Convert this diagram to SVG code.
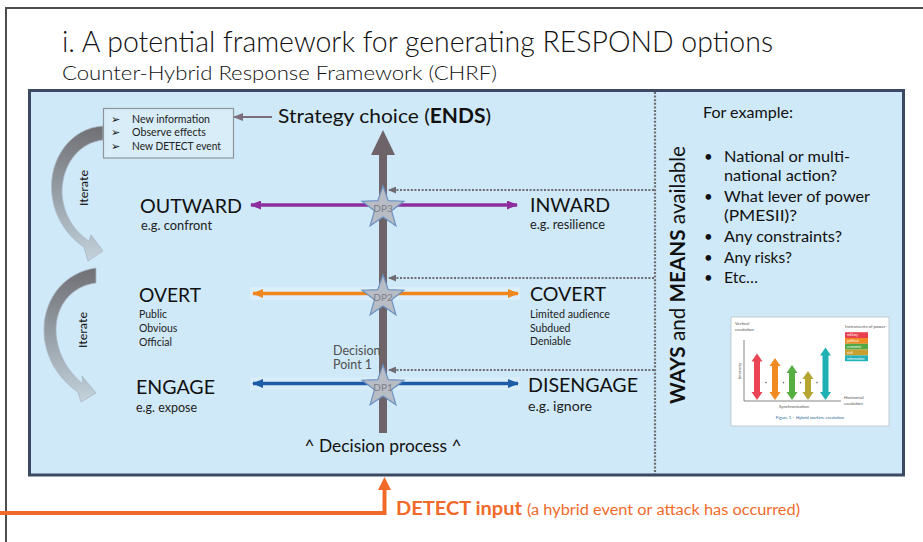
<svg xmlns="http://www.w3.org/2000/svg" xmlns:xlink="http://www.w3.org/1999/xlink" width="923" height="542" viewBox="0 0 923 542">
<style>
text{font-family:Lato,"Liberation Sans","DejaVu Sans",sans-serif;fill:#111}
.big{font-size:20px}
.sm{font-size:12.5px;fill:#222}
.xs{font-size:10.5px;fill:#222}
.ex{font-size:15px}
.dp{font-size:10px;fill:#7e7e86;text-anchor:middle}
.fig{font-size:4.3px;fill:#555}
.dot{stroke:#6e6e72;stroke-width:2.2;stroke-dasharray:2 1.6;fill:none}
.star{fill:#b8bcc5;stroke:#6c91c0;stroke-width:1.2}
.blt{font-family:"DejaVu Sans",sans-serif;font-size:11px;fill:#111}
</style>
<defs>
<marker id="mPur" markerUnits="userSpaceOnUse" markerWidth="11" markerHeight="9" refX="10" refY="4.5" orient="auto-start-reverse"><path d="M0,0 L11,4.5 L0,9 Z" fill="#8e2e9e"/></marker>
<marker id="mOra" markerUnits="userSpaceOnUse" markerWidth="11" markerHeight="9" refX="10" refY="4.5" orient="auto-start-reverse"><path d="M0,0 L11,4.5 L0,9 Z" fill="#f0861e"/></marker>
<marker id="mBlu" markerUnits="userSpaceOnUse" markerWidth="11" markerHeight="9" refX="10" refY="4.5" orient="auto-start-reverse"><path d="M0,0 L11,4.5 L0,9 Z" fill="#1f5ca8"/></marker>
<marker id="mGry" markerUnits="userSpaceOnUse" markerWidth="8" markerHeight="7" refX="7" refY="3.5" orient="auto"><path d="M0,0 L8,3.5 L0,7 Z" fill="#6e6e72"/></marker>
<marker id="mStr" markerUnits="userSpaceOnUse" markerWidth="10" markerHeight="8" refX="9" refY="4" orient="auto"><path d="M0,0 L10,4 L0,8 Z" fill="#7b6f7e"/></marker>
<linearGradient id="gCurve" x1="0" y1="0" x2="0" y2="1">
<stop offset="0" stop-color="#707074"/>
<stop offset="0.55" stop-color="#9aa3ab"/>
<stop offset="1" stop-color="#c4d3dd"/>
</linearGradient>
<path id="star" d="M0,-22 L5.3,-7.3 L20.9,-6.8 L8.6,2.8 L12.9,17.8 L0,9 L-12.9,17.8 L-8.6,2.8 L-20.9,-6.8 L-5.3,-7.3 Z"/>
</defs>

<rect width="923" height="542" fill="#ffffff"/>
<path d="M923,8 L6,8 L6,542" fill="none" stroke="#4d4d4d" stroke-width="2"/>

<g id="title">
<text x="62" y="52" font-size="30" font-weight="300" textLength="711" lengthAdjust="spacingAndGlyphs">i. A potential framework for generating RESPOND options</text>
<text x="62" y="80" font-size="20" font-weight="300" textLength="435" lengthAdjust="spacingAndGlyphs">Counter-Hybrid Response Framework (CHRF)</text>
</g>

<g id="panel">
<rect x="29.5" y="90.5" width="874" height="384.5" fill="#cfe9f8" stroke="#3b4a62" stroke-width="3"/>
<line x1="655" y1="92" x2="655" y2="474" class="dot"/>
</g>

<g id="connectors">
<rect x="250" y="287" width="270" height="13" fill="#ffffff" opacity="0.25"/>
<rect x="250" y="377" width="270" height="13" fill="#ffffff" opacity="0.18"/>
<rect x="379" y="154" width="8" height="279" fill="#6d6368"/>
<polygon points="371,155 383,130 395,155" fill="#6d6368"/>
<line x1="251" y1="205" x2="517" y2="205" stroke="#8e2e9e" stroke-width="3.5" marker-start="url(#mPur)" marker-end="url(#mPur)"/>
<line x1="253" y1="293.5" x2="518" y2="293.5" stroke="#f0861e" stroke-width="3.5" marker-start="url(#mOra)" marker-end="url(#mOra)"/>
<line x1="253" y1="383.5" x2="518" y2="383.5" stroke="#1f5ca8" stroke-width="3.5" marker-start="url(#mBlu)" marker-end="url(#mBlu)"/>
<line x1="654" y1="190" x2="389" y2="190" class="dot" marker-end="url(#mGry)"/>
<line x1="654" y1="278" x2="389" y2="278" class="dot" marker-end="url(#mGry)"/>
<line x1="654" y1="370" x2="389" y2="370" class="dot" marker-end="url(#mGry)"/>
<line x1="272" y1="117" x2="234" y2="117" stroke="#7b6f7e" stroke-width="2" marker-end="url(#mStr)"/>
<path d="M103,126 C70,128 48,160 52,195 C55,220 70,238 84,247 L88,261 L103,251 L91,235 L89,241 C75,232 63,215 62,193 C62,165 78,143 103,140 Z" fill="url(#gCurve)" stroke="#a9b8c4" stroke-width="0.8"/>
<path d="M96,268 C65,272 44,298 44,330 C44,358 60,380 78,392 L81,402 L96,393 L82,376 L83,384 C68,372 56,352 56,330 C56,305 72,286 96,283 Z" fill="url(#gCurve)" stroke="#a9b8c4" stroke-width="0.8"/>
<path d="M0,513 L384.5,513 L384.5,489" fill="none" stroke="#f26a2a" stroke-width="4"/>
<polygon points="378,490 384.5,477 391,490" fill="#f26a2a"/>
</g>

<g id="strategy-choice">
<text x="278" y="123" class="big" textLength="213" lengthAdjust="spacingAndGlyphs">Strategy choice (<tspan font-weight="bold">ENDS</tspan>)</text>
</g>

<g id="info-box">
<rect x="103.5" y="108.5" width="130" height="49.5" fill="#d8edf8" stroke="#8d949c" stroke-width="1.2"/>
<text x="111" y="122.5" class="blt">➢</text>
<text x="111" y="136" class="blt">➢</text>
<text x="111" y="149.5" class="blt">➢</text>
<text x="132" y="122.5" class="xs" textLength="78" lengthAdjust="spacingAndGlyphs">New information</text>
<text x="132" y="136" class="xs" textLength="74" lengthAdjust="spacingAndGlyphs">Observe effects</text>
<text x="132" y="149.5" class="xs" textLength="89" lengthAdjust="spacingAndGlyphs">New DETECT event</text>
</g>

<g id="iterate-labels">
<text transform="translate(88,188) rotate(-90)" font-size="12" text-anchor="middle" textLength="36" lengthAdjust="spacingAndGlyphs">Iterate</text>
<text transform="translate(87,330) rotate(-90)" font-size="12" text-anchor="middle" textLength="36" lengthAdjust="spacingAndGlyphs">Iterate</text>
</g>

<g id="outward">
<text x="140" y="212.5" class="big" textLength="102" lengthAdjust="spacingAndGlyphs">OUTWARD</text>
<text x="141" y="230" class="sm" textLength="71" lengthAdjust="spacingAndGlyphs">e.g. confront</text>
</g>
<g id="inward">
<text x="530" y="211.5" class="big" textLength="80" lengthAdjust="spacingAndGlyphs">INWARD</text>
<text x="530" y="229" class="sm" textLength="75" lengthAdjust="spacingAndGlyphs">e.g. resilience</text>
</g>
<g id="overt">
<text x="139" y="302" class="big" textLength="62" lengthAdjust="spacingAndGlyphs">OVERT</text>
<text x="139" y="318" class="xs">Public</text>
<text x="139" y="332" class="xs">Obvious</text>
<text x="139" y="346" class="xs">Official</text>
</g>
<g id="covert">
<text x="530" y="300.5" class="big" textLength="76" lengthAdjust="spacingAndGlyphs">COVERT</text>
<text x="530" y="317.5" class="xs" textLength="80" lengthAdjust="spacingAndGlyphs">Limited audience</text>
<text x="530" y="331.5" class="xs">Subdued</text>
<text x="530" y="345" class="xs">Deniable</text>
</g>
<g id="engage">
<text x="136" y="394" class="big" textLength="79" lengthAdjust="spacingAndGlyphs">ENGAGE</text>
<text x="136" y="411.5" class="sm" textLength="61" lengthAdjust="spacingAndGlyphs">e.g. expose</text>
</g>
<g id="disengage">
<text x="528" y="392" class="big" textLength="110" lengthAdjust="spacingAndGlyphs">DISENGAGE</text>
<text x="528" y="410.5" class="sm" textLength="64" lengthAdjust="spacingAndGlyphs">e.g. ignore</text>
</g>

<g id="decision-point-label">
<text x="333" y="355" font-size="12.5" style="fill:#505050">Decision</text>
<text x="333" y="368.5" font-size="12.5" style="fill:#505050">Point 1</text>
</g>

<g id="dp3"><use xlink:href="#star" x="383" y="208" class="star"/><text x="383" y="212" class="dp">DP3</text></g>
<g id="dp2"><use xlink:href="#star" x="383" y="297" class="star"/><text x="383" y="301" class="dp">DP2</text></g>
<g id="dp1"><use xlink:href="#star" x="383" y="387" class="star"/><text x="383" y="391" class="dp">DP1</text></g>

<g id="decision-process">
<text x="383" y="452" font-size="17" text-anchor="middle" textLength="157" lengthAdjust="spacingAndGlyphs">^ Decision process ^</text>
</g>

<g id="ways-means">
<text transform="translate(685,404) rotate(-90)" font-size="21" textLength="258" lengthAdjust="spacingAndGlyphs"><tspan font-weight="bold">WAYS</tspan> and <tspan font-weight="bold">MEANS</tspan> available</text>
</g>

<g id="examples">
<text x="703" y="118" class="ex" textLength="90" lengthAdjust="spacingAndGlyphs">For example:</text>
<text x="704" y="161.5" class="ex">•</text>
<text x="704" y="201.5" class="ex">•</text>
<text x="704" y="241.5" class="ex">•</text>
<text x="704" y="262.5" class="ex">•</text>
<text x="704" y="283" class="ex">•</text>
<text x="724" y="161.5" class="ex" textLength="126" lengthAdjust="spacingAndGlyphs">National or multi-</text>
<text x="724" y="181" class="ex" textLength="113" lengthAdjust="spacingAndGlyphs">national action?</text>
<text x="724" y="201.5" class="ex" textLength="146" lengthAdjust="spacingAndGlyphs">What lever of power</text>
<text x="724" y="221" class="ex" textLength="73" lengthAdjust="spacingAndGlyphs">(PMESII)?</text>
<text x="724" y="241.5" class="ex" textLength="118" lengthAdjust="spacingAndGlyphs">Any constraints?</text>
<text x="724" y="262.5" class="ex" textLength="68" lengthAdjust="spacingAndGlyphs">Any risks?</text>
<text x="724" y="283" class="ex" textLength="34" lengthAdjust="spacingAndGlyphs">Etc…</text>
</g>

<g id="escalation-figure">
<rect x="731" y="317" width="158" height="109" fill="#ffffff" stroke="#b8c0c8" stroke-width="0.8"/>
<text x="735" y="325" class="fig">Vertical</text>
<text x="735" y="331" class="fig">escalation</text>
<path d="M744,340 L744,401 L841,401" fill="none" stroke="#555" stroke-width="0.7"/>
<text transform="translate(741,371) rotate(-90)" class="fig" text-anchor="middle">Intensity</text>
<polygon points="757,353.5 762.5,361.5 760,361.5 760,392 762.5,392 757,400 751.5,392 754,392 754,361.5 751.5,361.5" fill="#ea4455"/>
<polygon points="775,358 780.5,366 778,366 778,392 780.5,392 775,400 769.5,392 772,392 772,366 769.5,366" fill="#f28a22"/>
<polygon points="792,365 797.5,373 795,373 795,392 797.5,392 792,400 786.5,392 789,392 789,373 786.5,373" fill="#57ad3f"/>
<polygon points="808,371 813.5,379 811,379 811,392 813.5,392 808,400 802.5,392 805,392 805,379 802.5,379" fill="#b5a632"/>
<polygon points="825.5,347.5 831,355.5 828.5,355.5 828.5,392 831,392 825.5,400 820,392 822.5,392 822.5,355.5 820,355.5" fill="#1fb0b4"/>
<g fill="#666"><circle cx="766" cy="382.6" r="0.8"/><circle cx="783.5" cy="382.6" r="0.8"/><circle cx="800.5" cy="382.6" r="0.8"/><circle cx="817" cy="382.6" r="0.8"/></g>
<text x="794" y="407.5" class="fig" text-anchor="middle">Synchronisation</text>
<text x="844" y="399" class="fig">Horizontal</text>
<text x="844" y="405" class="fig">escalation</text>
<text x="845" y="328" class="fig">Instruments of power</text>
<rect x="845" y="332.2" width="23" height="5.8" fill="#e8404f"/>
<rect x="845" y="338" width="23" height="5.8" fill="#f08a24"/>
<rect x="845" y="343.8" width="23" height="5.8" fill="#52a844"/>
<rect x="845" y="349.6" width="23" height="5.8" fill="#c8a030"/>
<rect x="845" y="355.4" width="23" height="5.8" fill="#20b2b8"/>
<g style="font-size:3.4px"><text x="847" y="336.3" style="fill:#fff">military</text><text x="847" y="342.1" style="fill:#fff">political</text><text x="847" y="347.9" style="fill:#fff">economic</text><text x="847" y="353.7" style="fill:#fff">civil</text><text x="847" y="359.5" style="fill:#fff">information</text></g>
<text x="810" y="418.5" class="fig" text-anchor="middle" style="fill:#2a6a9a">Figure 1 – Hybrid warfare escalation</text>
</g>

<g id="detect-input">
<text x="396" y="515" font-size="18" font-weight="bold" style="fill:#f26a2a" textLength="126" lengthAdjust="spacingAndGlyphs">DETECT input</text>
<text x="527" y="515" font-size="14.5" style="fill:#f26a2a" textLength="273" lengthAdjust="spacingAndGlyphs">(a hybrid event or attack has occurred)</text>
</g>
</svg>
